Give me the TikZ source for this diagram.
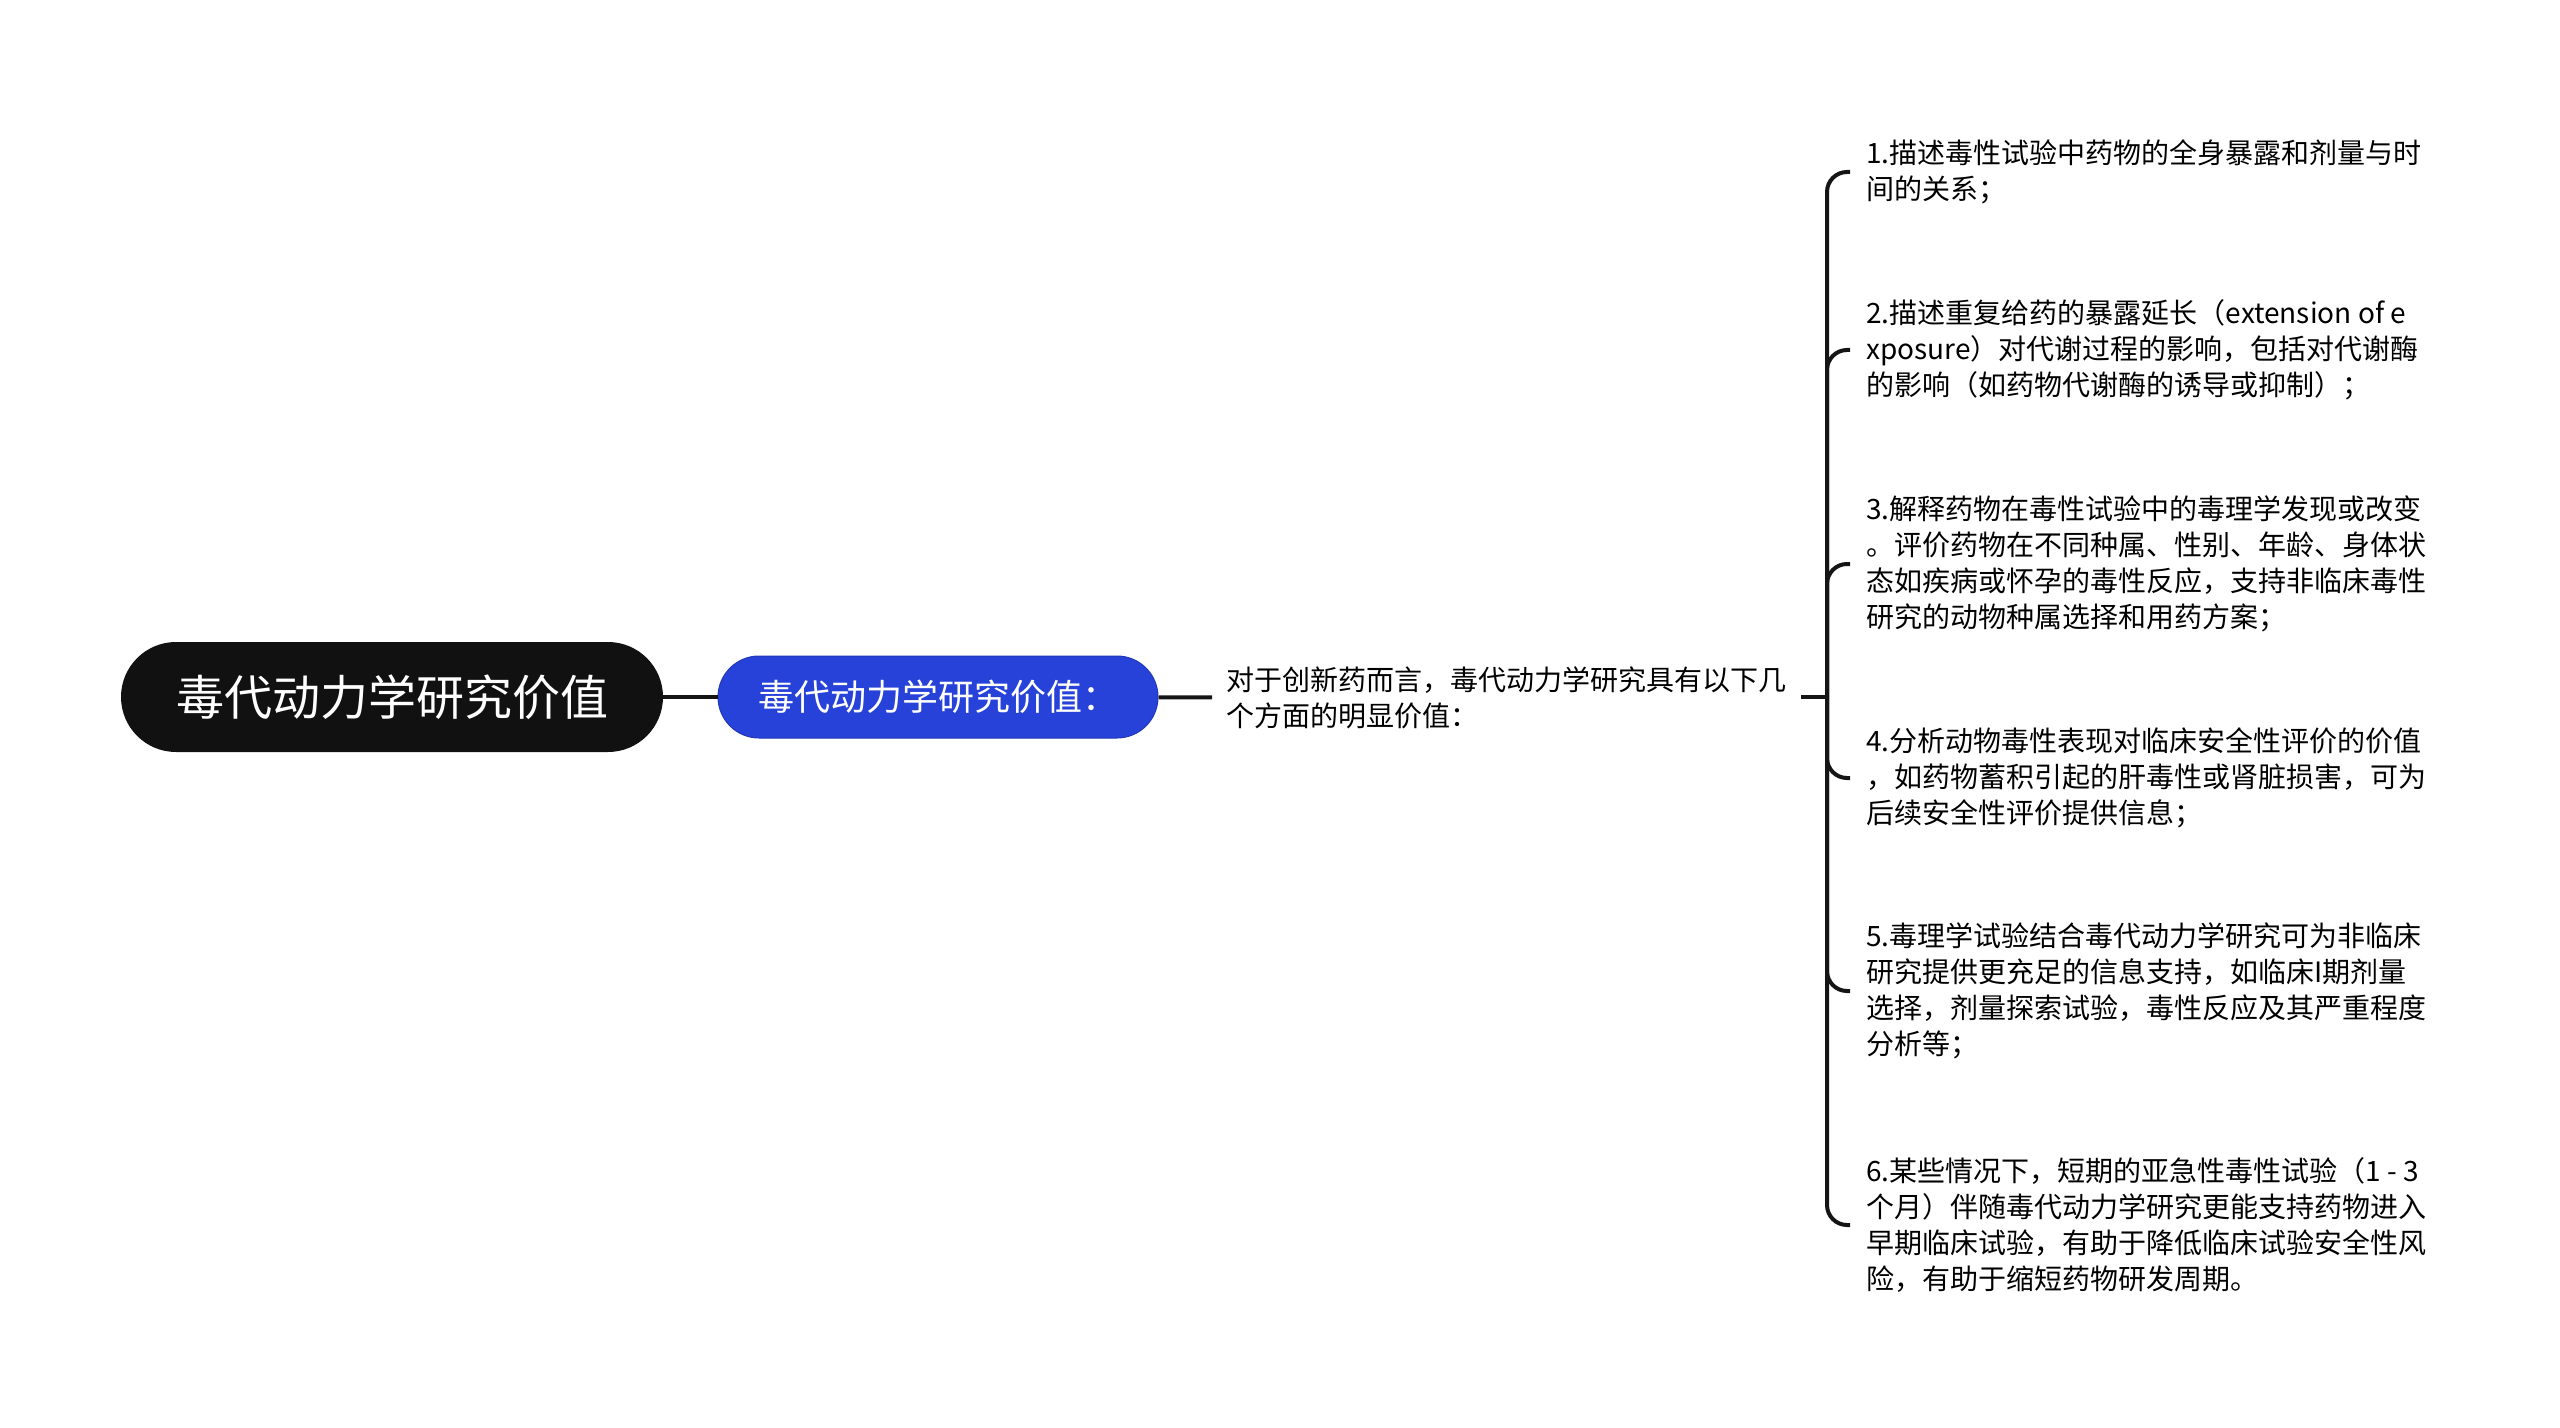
\documentclass[tikz,border=0pt]{standalone}
\usepackage{fontspec}
\setmainfont{Noto Sans CJK SC}
\definecolor{rootblack}{HTML}{111111}
\definecolor{subblue}{HTML}{2742D8}
\definecolor{linedark}{HTML}{151515}
\tikzset{
  rootnode/.style={fill=rootblack, text=white, rounded corners=27.5pt, minimum width=271pt, minimum height=55pt, font=\fontsize{24}{28}\selectfont},
  subnode/.style={fill=subblue, draw=subblue!85!black, line width=0.5pt, text=white, rounded corners=20.5pt, minimum width=220pt, minimum height=41pt, font=\fontsize{18}{21}\selectfont},
  textnode/.style={anchor=west, align=left, inner xsep=7pt, font=\fontsize{14}{18}\selectfont},
  leafnode/.style={anchor=west, align=left, inner xsep=8pt, font=\fontsize{14}{18}\selectfont},
  link/.style={draw=linedark, line width=2pt},
  bracketlink/.style={link, rounded corners=10pt}
}

\begin{document}
\begin{tikzpicture}[x=0.5pt,y=-0.5pt]
\useasboundingbox (0,0) rectangle (2560,1428);

%central topic and the first level

\node[rootnode] (root) at (392,697) {毒代动力学研究价值};
\node[subnode] (sub) at (938,697) {毒代动力学研究价值：};
\node[textnode] (main) at (1212,698) {对于创新药而言，毒代动力学研究具有以下几\\个方面的明显价值：};

\draw[link] (root) -- (sub);
\draw[link] (sub) -- (main);

%the six values

\node[leafnode] (p1) at (1850,172) {1.描述毒性试验中药物的全身暴露和剂量与时\\间的关系；};
\node[leafnode] (p2) at (1850,350) {2.描述重复给药的暴露延长（extension of e\\xposure）对代谢过程的影响，包括对代谢酶\\的影响（如药物代谢酶的诱导或抑制）；};
\node[leafnode] (p3) at (1850,564) {3.解释药物在毒性试验中的毒理学发现或改变\\。评价药物在不同种属、性别、年龄、身体状\\态如疾病或怀孕的毒性反应，支持非临床毒性\\研究的动物种属选择和用药方案；};
\node[leafnode] (p4) at (1850,778) {4.分析动物毒性表现对临床安全性评价的价值\\，如药物蓄积引起的肝毒性或肾脏损害，可为\\后续安全性评价提供信息；};
\node[leafnode] (p5) at (1850,991) {5.毒理学试验结合毒代动力学研究可为非临床\\研究提供更充足的信息支持，如临床I期剂量\\选择，剂量探索试验，毒性反应及其严重程度\\分析等；};
\node[leafnode] (p6) at (1850,1225) {6.某些情况下，短期的亚急性毒性试验（1 - 3\\个月）伴随毒代动力学研究更能支持药物进入\\早期临床试验，有助于降低临床试验安全性风\\险，有助于缩短药物研发周期。};

%bracket to the values

\coordinate (hub) at (1827,697);
\draw[link] (main.east |- hub) -- (hub);
\foreach \i in {1,...,6}
  \draw[bracketlink] (hub) |- (p\i.west);

\end{tikzpicture}
\end{document}
